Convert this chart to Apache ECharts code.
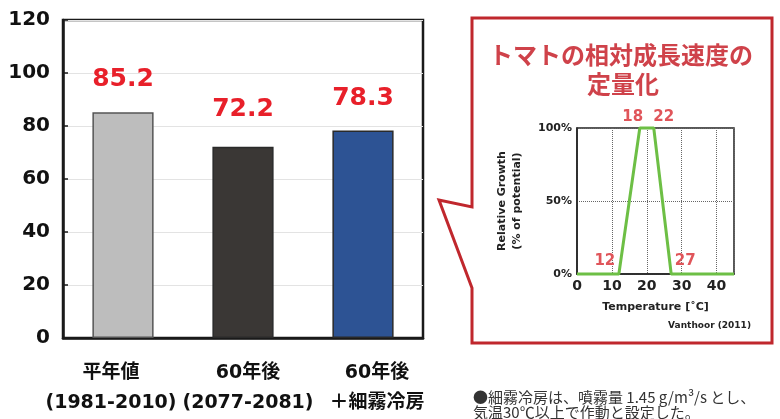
<!DOCTYPE html>
<html>
<head>
<meta charset="utf-8">
<script src="https://cdn.jsdelivr.net/npm/echarts@6/dist/echarts.min.js"></script>
<style>
  html, body { margin: 0; padding: 0; background: #ffffff; }
  #chart { width: 780px; height: 419px; }
</style>
</head>
<body>
<div id="chart"></div>
<script>
// Relative growth index of tomato under three climate conditions
const categories = ['平年値\n(1981-2010)', '60年後\n(2077-2081)', '60年後\n＋細霧冷房'];
const growthValues = [85.2, 72.2, 78.3];
const barColors = ['#bdbdbd', '#3a3735', '#2d5394'];

// Temperature response curve (Vanthoor 2011)
const tempPoints = [0, 12, 18, 22, 27, 45];
const relGrowth = [0, 0, 100, 100, 0, 0];
const labelledTemps = [12, 18, 22, 27];
const tempLabelOffsets = { 12: [-14, 0], 18: [-7, 2], 22: [10, 2], 27: [14, 0] };

const FONT = 'DejaVu Sans, Noto Sans CJK JP, sans-serif';
const CJK = 'Noto Sans CJK JP, sans-serif';
const RED = '#e8202a';
const FRAME_RED = '#c0272d';

const chart = echarts.init(document.getElementById('chart'), null, { renderer: 'canvas' });

const catPadding = [[0, 24, 0, 0], [0, 0, 0, 10], [0, 0, 0, 28]];
const barLabelDist = [20, 25, 20];

const option = {
  backgroundColor: '#ffffff',
  animation: false,
  grid: [
    { left: 63, top: 20, width: 360, height: 318, show: true, borderColor: '#1a1a1a', borderWidth: 2.5, backgroundColor: 'transparent' },
    { left: 577, top: 128, width: 157, height: 146, show: true, borderColor: '#222', borderWidth: 1.5, backgroundColor: 'transparent' }
  ],
  xAxis: [
    {
      type: 'category', gridIndex: 0,
      data: categories.map((c, i) => ({ value: c, textStyle: { padding: catPadding[i] } })),
      axisLine: { lineStyle: { color: '#1a1a1a', width: 2.5 } },
      axisTick: { show: false },
      axisLabel: { fontFamily: FONT, fontWeight: 'bold', fontSize: 19, color: '#111', lineHeight: 30, margin: 20, interval: 0 }
    },
    {
      type: 'value', gridIndex: 1, min: 0, max: 45, interval: 10,
      name: 'Temperature [˚C]', nameLocation: 'middle', nameGap: 28,
      nameTextStyle: { fontFamily: FONT, fontWeight: 'bold', fontSize: 11, color: '#222' },
      axisLine: { show: true, lineStyle: { color: '#222', width: 1.5 } },
      axisTick: { show: false },
      axisLabel: { fontFamily: FONT, fontWeight: 'bold', fontSize: 14, color: '#222', margin: 5, showMaxLabel: false },
      splitLine: { show: true, lineStyle: { type: 'dotted', color: '#666', width: 1 } }
    }
  ],
  yAxis: [
    {
      type: 'value', gridIndex: 0, min: 0, max: 120, interval: 20,
      axisLine: { show: true, lineStyle: { color: '#1a1a1a', width: 2.5 } },
      axisTick: { show: true, inside: true, length: 5, lineStyle: { color: '#1a1a1a', width: 1.5 } },
      axisLabel: { fontFamily: FONT, fontWeight: 'bold', fontSize: 20, color: '#111', margin: 13 },
      splitLine: { show: true, lineStyle: { color: '#e3e3e3', width: 1 } }
    },
    {
      type: 'value', gridIndex: 1, min: 0, max: 100, interval: 50,
      name: 'Relative Growth\n(% of potential)', nameLocation: 'middle', nameGap: 52, nameRotate: 90,
      nameTextStyle: { fontFamily: FONT, fontWeight: 'bold', fontSize: 11, color: '#222', lineHeight: 15 },
      axisLine: { show: true, lineStyle: { color: '#222', width: 1.5 } },
      axisTick: { show: false },
      axisLabel: { fontFamily: FONT, fontWeight: 'bold', fontSize: 11, color: '#222', margin: 5, formatter: v => v + '%' },
      splitLine: { show: true, lineStyle: { type: 'dotted', color: '#666', width: 1 } }
    }
  ],
  series: [
    {
      type: 'bar', xAxisIndex: 0, yAxisIndex: 0, barWidth: '51%',
      data: growthValues.map((v, i) => ({
        value: v,
        itemStyle: { color: barColors[i], borderColor: i === 0 ? '#555' : '#2a2a2a', borderWidth: 1.5 },
        label: { distance: barLabelDist[i] }
      })),
      label: {
        show: true, position: 'top',
        fontFamily: FONT, fontWeight: 'bold', fontSize: 25, color: RED,
        formatter: p => p.value.toFixed(1)
      }
    },
    {
      type: 'line', xAxisIndex: 1, yAxisIndex: 1, clip: false,
      symbol: 'circle', symbolSize: 0,
      lineStyle: { color: '#6dbf45', width: 3 },
      itemStyle: { color: '#6dbf45' },
      data: tempPoints.map((t, i) => {
        const item = { value: [t, relGrowth[i]] };
        if (labelledTemps.includes(t)) {
          item.label = { show: true, offset: tempLabelOffsets[t] };
        }
        return item;
      }),
      label: {
        show: false, position: 'top', distance: 5,
        fontFamily: FONT, fontWeight: 'bold', fontSize: 15, color: '#e0555a',
        formatter: p => String(p.value[0])
      }
    }
  ],
  graphic: [
    {
      type: 'polygon', z: -10,
      shape: { points: [[472, 18], [772, 18], [772, 343], [472, 343], [472, 288], [439, 200], [472, 207]] },
      style: { fill: '#ffffff', stroke: FRAME_RED, lineWidth: 3, lineJoin: 'miter' }
    },
    {
      type: 'text', x: 621, y: 55, z: 5,
      style: { text: 'トマトの相対成長速度の', font: 'bold 24px ' + CJK, fill: '#cf424a', textAlign: 'center', textVerticalAlign: 'middle' }
    },
    {
      type: 'text', x: 623, y: 84, z: 5,
      style: { text: '定量化', font: 'bold 24px ' + CJK, fill: '#cf424a', textAlign: 'center', textVerticalAlign: 'middle' }
    },
    {
      type: 'text', x: 751, y: 326, z: 5,
      style: { text: 'Vanthoor (2011)', font: 'bold 9px ' + FONT, fill: '#222', textAlign: 'right', textVerticalAlign: 'middle' }
    },
    {
      type: 'text', x: 473, y: 397, z: 5,
      style: { text: '●細霧冷房は、噴霧量 1.45 g/m³/s とし、', font: '15px ' + CJK, fill: '#333', textAlign: 'left', textVerticalAlign: 'middle' }
    },
    {
      type: 'text', x: 473, y: 412, z: 5,
      style: { text: '気温30℃以上で作動と設定した。', font: '15px ' + CJK, fill: '#333', textAlign: 'left', textVerticalAlign: 'middle' }
    }
  ]
};

chart.setOption(option);
</script>
</body>
</html>
